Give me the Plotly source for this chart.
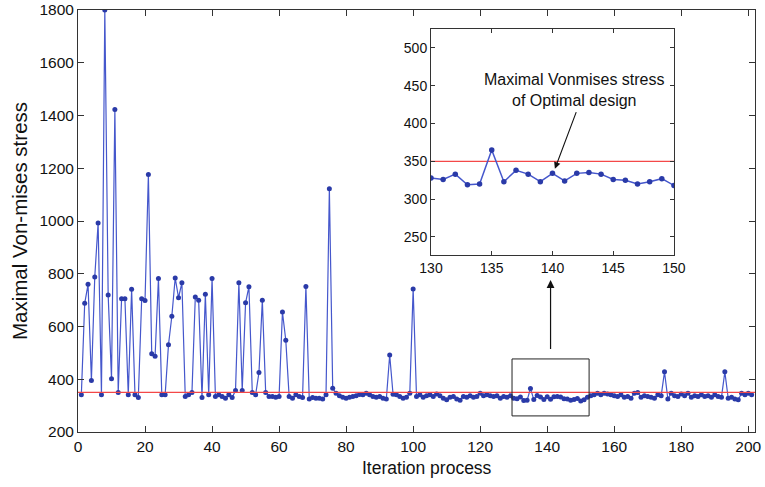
import plotly.graph_objects as go

# Maximal von Mises stress recorded at every iteration of the optimisation
iterations = list(range(1, 202))
max_stress = [
    341, 688, 760, 395, 788, 992, 341, 1800, 719, 402,
    1423, 350, 705, 705, 341, 741, 341, 331, 705, 699,
    1176, 497, 487, 782, 341, 341, 531, 639, 784, 709,
    766, 335, 341, 350, 712, 700, 331, 722, 341, 782,
    335, 341, 335, 328, 341, 331, 357, 766, 357, 690,
    751, 350, 341, 426, 700, 350, 335, 335, 332, 335,
    655, 548, 335, 328, 341, 335, 331, 752, 325, 331,
    328, 328, 325, 341, 1122, 366, 347, 337, 332, 328,
    332, 335, 337, 342, 341, 347, 341, 335, 332, 335,
    328, 325, 492, 343, 341, 335, 328, 332, 347, 742,
    335, 341, 332, 337, 341, 335, 344, 337, 328, 322,
    332, 335, 325, 320, 335, 332, 337, 332, 335, 347,
    337, 341, 337, 335, 337, 328, 335, 332, 337, 328,
    326, 333, 319, 320, 365, 323, 338, 333, 323, 334,
    324, 334, 335, 333, 326, 325, 320, 323, 327, 318,
    322, 332, 337, 341, 347, 341, 347, 344, 341, 337,
    335, 341, 332, 335, 328, 347, 350, 332, 337, 335,
    332, 328, 341, 337, 428, 325, 347, 337, 335, 344,
    337, 347, 332, 337, 335, 341, 335, 337, 332, 341,
    335, 332, 428, 328, 332, 325, 322, 347, 341, 347,
    341,
]
stress_limit = 350

# Zoomed window shown in the inset
zoom_start, zoom_end = 130, 150
zoom_iter = [i for i in iterations if zoom_start <= i <= zoom_end]
zoom_stress = [max_stress[i - 1] for i in zoom_iter]

x_ticks_main = list(range(0, 201, 20))
y_ticks_main = list(range(200, 1801, 200))
x_ticks_inset = list(range(130, 151, 5))
y_ticks_inset = list(range(250, 501, 50))

LINE_BLUE = "#4557cc"
MARK_BLUE = "#2a3aa8"
LIMIT_RED = "#f44848"
FONT = "Liberation Sans, Arial, sans-serif"

fig = go.Figure()

# main history
fig.add_trace(go.Scatter(
    x=iterations, y=max_stress, mode="lines+markers",
    line=dict(color=LINE_BLUE, width=1.2),
    marker=dict(color=MARK_BLUE, size=5),
    xaxis="x", yaxis="y", showlegend=False,
))
fig.add_trace(go.Scatter(
    x=[0, 202], y=[stress_limit, stress_limit], mode="lines",
    line=dict(color=LIMIT_RED, width=1.3),
    xaxis="x", yaxis="y", showlegend=False,
))

# inset
fig.add_trace(go.Scatter(
    x=[zoom_start, zoom_end], y=[stress_limit, stress_limit], mode="lines",
    line=dict(color=LIMIT_RED, width=1.3),
    xaxis="x2", yaxis="y2", showlegend=False,
))
fig.add_trace(go.Scatter(
    x=zoom_iter, y=zoom_stress, mode="lines+markers",
    line=dict(color=LINE_BLUE, width=1.5),
    marker=dict(color=MARK_BLUE, size=5.5),
    xaxis="x2", yaxis="y2", showlegend=False,
))

axis_common = dict(
    showgrid=False, zeroline=False, showline=True, linecolor="#333333",
    linewidth=1, mirror="ticks", ticks="inside", tickcolor="#333333",
    automargin=False, ticklabeloverflow="allow",
)

fig.update_layout(
    width=765, height=487,
    margin=dict(l=78, r=10, t=10, b=55),
    paper_bgcolor="white", plot_bgcolor="white",
    font=dict(family=FONT, color="#111111"),
    xaxis=dict(
        **axis_common, range=[0, 202], tickvals=x_ticks_main, ticklen=6,
        tickfont=dict(size=15.5),
    ),
    yaxis=dict(
        **axis_common, range=[200, 1800], tickvals=y_ticks_main, ticklen=6,
        tickfont=dict(size=15.5),
        title=dict(text="Maximal Von-mises stress", font=dict(size=20.5), standoff=6),
    ),
    xaxis2=dict(
        **axis_common, domain=[0.5214, 0.8803], anchor="y2",
        range=[zoom_start, zoom_end], tickvals=x_ticks_inset, ticklen=4,
        tickfont=dict(size=14),
    ),
    yaxis2=dict(
        **axis_common, domain=[0.4194, 0.955], anchor="x2",
        range=[226, 525], tickvals=y_ticks_inset, ticklen=4,
        tickfont=dict(size=14),
    ),
)

# x-axis caption, set slightly right of the plot centre
fig.add_annotation(xref="paper", yref="paper", x=0.5155, y=-0.0853,
                   yanchor="middle", text="Iteration process",
                   showarrow=False, font=dict(size=17.5, color="#111111"))

# window in the main plot that the inset enlarges
fig.add_shape(type="rect", xref="x", yref="y",
              x0=129.5, x1=152.5, y0=261, y1=477,
              line=dict(color="#222222", width=1))

# arrow from the window up to the inset
fig.add_annotation(xref="x", yref="y", axref="x", ayref="y",
                   x=141, y=776, ax=141, ay=509, text="",
                   showarrow=True, arrowhead=2, arrowsize=1.3,
                   arrowwidth=1.2, arrowcolor="#111111")

# label and arrow inside the inset
fig.add_annotation(xref="x2", yref="y2",
                   x=141.85, y=444, text="Maximal Vonmises stress<br>of Optimal design",
                   showarrow=False, font=dict(size=16, color="#111111"))
fig.add_annotation(xref="x2", yref="y2", axref="x2", ayref="y2",
                   x=140.2, y=340, ax=142.0, ay=417, text="",
                   showarrow=True, arrowhead=2, arrowsize=1.2,
                   arrowwidth=1.1, arrowcolor="#111111")

fig.write_html("out.html")
